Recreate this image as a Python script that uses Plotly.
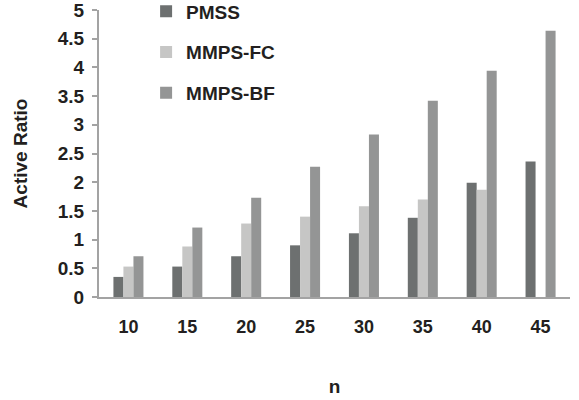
import plotly.graph_objects as go

categories = ["10", "15", "20", "25", "30", "35", "40", "45"]
pmss = [0.35, 0.53, 0.71, 0.90, 1.11, 1.38, 1.99, 2.36]
mmps_fc = [0.53, 0.88, 1.28, 1.40, 1.58, 1.70, 1.87, 0]
mmps_bf = [0.71, 1.21, 1.73, 2.27, 2.83, 3.42, 3.94, 4.64]
y_ticks = [0, 0.5, 1, 1.5, 2, 2.5, 3, 3.5, 4, 4.5, 5]

FONT = "Liberation Sans, Arial, sans-serif"
AXIS = "#a3a3a3"
TXT = "#231f20"

fig = go.Figure()
series = [("PMSS", pmss, "#6d7070"), ("MMPS-FC", mmps_fc, "#c6c6c5"), ("MMPS-BF", mmps_bf, "#949595")]
for name, vals, col in series:
    fig.add_trace(go.Bar(x=categories, y=vals, name=name, marker=dict(color=col, line=dict(width=0)),
                         legendgroup=name))

fig.update_layout(
    width=579, height=400,
    margin=dict(l=99, r=9, t=10, b=103, autoexpand=False),
    paper_bgcolor="white", plot_bgcolor="white",
    barmode="group", bargap=0.49, bargroupgap=0,
    font=dict(family=FONT, size=19, color=TXT),
    showlegend=True,
    legend=dict(x=0.1, y=1.061, xanchor="left", yanchor="top", bgcolor="rgba(0,0,0,0)",
                font=dict(family=FONT, size=19, color=TXT, weight="bold"),
                tracegroupgap=13, traceorder="grouped", itemwidth=30),
    xaxis=dict(type="category", showline=True, linecolor=AXIS, linewidth=2, ticks="",
               showgrid=False, zeroline=False,
               tickfont=dict(family=FONT, size=18, color=TXT, weight="bold"),
               ticklabelstandoff=12,
               title=dict(text="<b>n</b>", font=dict(family=FONT, size=19, color=TXT), standoff=44)),
    yaxis=dict(range=[0, 5], tickvals=y_ticks, ticktext=[f"{v:g}" for v in y_ticks],
               showline=True, linecolor=AXIS, linewidth=2, ticks="outside", ticklen=5,
               tickcolor=AXIS, tickwidth=2, showgrid=False, zeroline=False,
               tickfont=dict(family=FONT, size=19, color=TXT, weight="bold"),
               ticklabelstandoff=4, ticklabeloverflow="allow",
               title=dict(text="<b>Active Ratio</b>", font=dict(family=FONT, size=19, color=TXT), standoff=25)),
)

fig.write_html("out.html")
